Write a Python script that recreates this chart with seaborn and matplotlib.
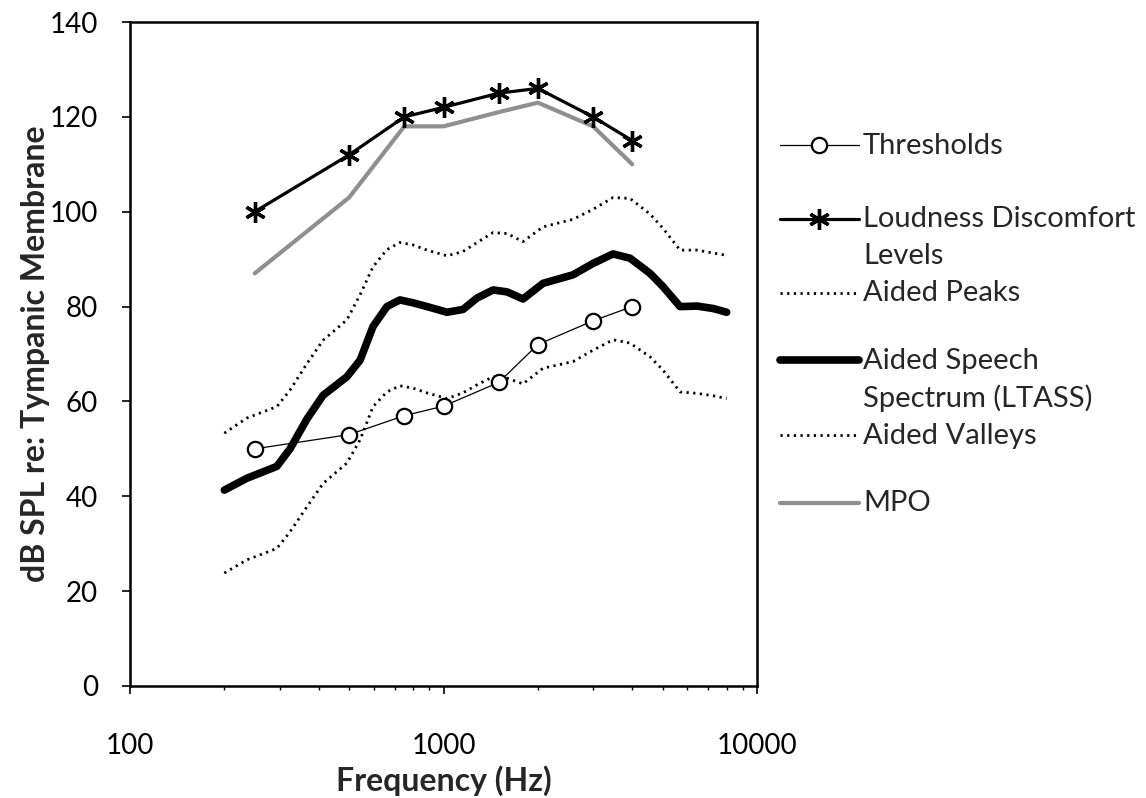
import numpy as np
import pandas as pd
import matplotlib
matplotlib.use("Agg")
import matplotlib.pyplot as plt
import seaborn as sns
from matplotlib.lines import Line2D
from matplotlib.ticker import LogLocator, NullFormatter

# ---- data ----
pt_freq = [250, 500, 750, 1000, 1500, 2000, 3000, 4000]
thresholds = [50, 53, 57, 59, 64, 72, 77, 80]
ldl = [100, 112, 120, 122, 125, 126, 120, 115]
mpo = [87, 103, 118, 118, 121, 123, 118, 110]

sp_freq = [200, 236, 294, 324, 367, 413, 492, 542, 596, 660, 726, 799, 886, 1026,
           1154, 1279, 1439, 1594, 1793, 2077, 2589, 2999, 3473, 3934, 4557, 5013,
           5681, 6436, 7237, 8000]
ltass = [41.3, 43.8, 46.3, 50.0, 56.3, 61.3, 65.2, 68.7, 75.8, 80.0, 81.4, 80.8, 80.0,
         78.8, 79.4, 81.8, 83.5, 83.1, 81.6, 84.9, 86.7, 89.1, 91.1, 90.2, 87.0, 84.2,
         80.0, 80.1, 79.6, 78.8]
peaks = [53.3, 56.5, 58.9, 62.4, 68.0, 72.9, 77.2, 82.5, 88.4, 92.0, 93.5, 93.0, 91.9,
         90.7, 91.6, 93.5, 95.6, 95.4, 93.7, 96.8, 98.4, 100.5, 103.0, 102.8, 99.5, 96.5,
         91.9, 91.9, 91.3, 90.8]
valleys = [23.8, 26.6, 29.0, 32.5, 37.8, 42.7, 47.0, 51.9, 58.9, 62.0, 63.3, 62.8, 61.8,
           60.6, 61.8, 63.5, 65.2, 64.9, 63.7, 67.0, 68.4, 70.8, 73.0, 72.3, 69.4, 66.6,
           62.0, 61.7, 61.2, 60.6]

y_ticks = [0, 20, 40, 60, 80, 100, 120, 140]
x_ticks = [100, 1000, 10000]
x_ticklabels = ["100", "1000", "10000"]

# ---- plot ----
sns.set_theme(style="white")
plt.rcParams['font.family'] = ['Lato', 'DejaVu Sans']

fig = plt.figure(figsize=(11.46, 7.98), dpi=100)
ax = fig.add_axes([0.1134, 0.1404, 0.5472, 0.832])

pts = pd.DataFrame({"f": pt_freq, "thr": thresholds, "ldl": ldl, "mpo": mpo})
sp = pd.DataFrame({"f": sp_freq, "ltass": ltass, "peaks": peaks, "valleys": valleys})

dot = (0, (0.8, 1.6))

sns.lineplot(data=sp, x="f", y="valleys", ax=ax, color="black", lw=2.0,
             linestyle=dot, estimator=None, sort=False)
h_val = ax.lines[-1]
sns.lineplot(data=sp, x="f", y="peaks", ax=ax, color="black", lw=2.0,
             linestyle=dot, estimator=None, sort=False)
h_peak = ax.lines[-1]
sns.lineplot(data=sp, x="f", y="ltass", ax=ax, color="black", lw=5.5,
             estimator=None, sort=False, solid_capstyle="round", solid_joinstyle="round")
h_lt = ax.lines[-1]
sns.lineplot(data=pts, x="f", y="mpo", ax=ax, color="#8f8f8f", lw=3.0,
             estimator=None, sort=False)
h_mpo = ax.lines[-1]
sns.lineplot(data=pts, x="f", y="ldl", ax=ax, color="black", lw=2.3,
             marker=(6, 2, 0), markersize=15, markeredgewidth=2.4,
             markeredgecolor="black", estimator=None, sort=False)
h_ldl = ax.lines[-1]
sns.lineplot(data=pts, x="f", y="thr", ax=ax, color="black", lw=0.9,
             marker="o", markersize=11, markerfacecolor="white",
             markeredgecolor="black", markeredgewidth=1.6, estimator=None, sort=False)
h_thr = ax.lines[-1]

ax.set_xscale("log")
ax.set_xlim(100, 10000)
ax.set_ylim(0, 140)
ax.set_xticks(x_ticks)
ax.set_xticklabels(x_ticklabels)
ax.xaxis.set_minor_locator(LogLocator(base=10, subs=np.arange(2, 10)))
ax.xaxis.set_minor_formatter(NullFormatter())
ax.set_yticks(y_ticks)
ax.tick_params(axis="both", which="major", direction="out", length=6, width=1.2,
               color="black", labelsize=20, labelcolor="black",
               bottom=True, left=True)
ax.tick_params(axis="x", which="minor", direction="out", length=3, width=1.0,
               color="black", bottom=True)
ax.tick_params(axis="y", pad=17)
ax.tick_params(axis="x", which="major", pad=28)
for s in ax.spines.values():
    s.set_color("black")
    s.set_linewidth(1.8)

ax.set_xlabel("Frequency (Hz)", fontsize=23, fontweight="bold", labelpad=4)
ax.set_ylabel("dB SPL re: Tympanic Membrane", fontsize=23, fontweight="bold",
              labelpad=0)

blank = Line2D([], [], linestyle="none")
handles = [h_thr, blank, h_ldl, blank, h_peak, blank, h_lt, blank, h_val, blank, h_mpo]
labels = ["Thresholds", " ", "Loudness Discomfort", "Levels", "Aided Peaks", " ",
          "Aided Speech", "Spectrum (LTASS)", "Aided Valleys", " ", "MPO"]
leg = ax.legend(handles, labels, loc="upper left", bbox_to_anchor=(0.6806, 0.8335),
                bbox_transform=fig.transFigure, frameon=False,
                prop={"family": "Lato", "size": 21}, handlelength=2.7,
                handleheight=0.3,
                handletextpad=0.15, labelspacing=0.37, borderaxespad=0, borderpad=0)
texts = leg.get_texts()
texts[1].set_fontsize(20)
texts[5].set_fontsize(12)
texts[9].set_fontsize(11)

fig.savefig("out.png", dpi=100, facecolor="white")
